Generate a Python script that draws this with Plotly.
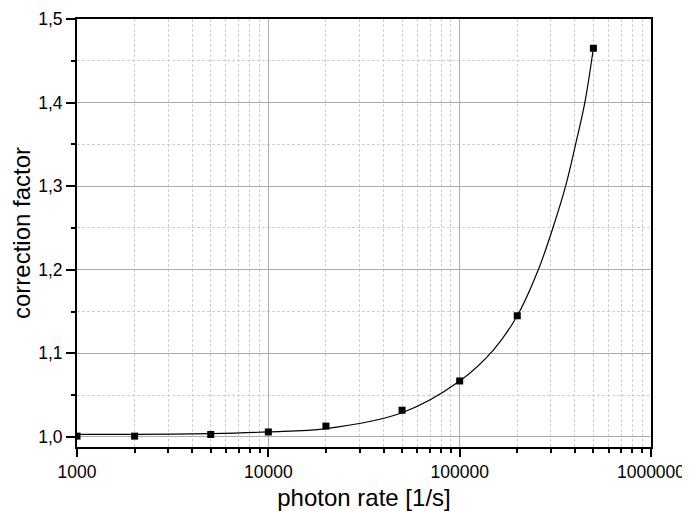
import plotly.graph_objects as go

# measured data points
rate = [1000, 2000, 5000, 10000, 20000, 50000, 100000, 200000, 500000]
factor = [1.001, 1.001, 1.003, 1.006, 1.013, 1.032, 1.067, 1.145, 1.465]

# fit curve
fit_rate = [1000, 2000, 5000, 10000, 20000, 50000, 100000, 150000, 200000,
            257600, 307000, 357800, 403500, 451000, 500000]
fit_factor = [1.003, 1.003, 1.004, 1.006, 1.010, 1.029, 1.067, 1.104, 1.145,
              1.200, 1.250, 1.300, 1.350, 1.400, 1.465]

x_ticks = [1000, 10000, 100000, 1000000]
x_ticktext = ["1000", "10000", "100000", "1000000"]
x_minor = [m * 10 ** e for e in range(3, 6) for m in range(2, 10)]
y_ticks = [1.0, 1.1, 1.2, 1.3, 1.4, 1.5]
y_ticktext = ["1,0", "1,1", "1,2", "1,3", "1,4", "1,5"]
y_minor = [1.05, 1.15, 1.25, 1.35, 1.45]

fig = go.Figure()
fig.add_trace(go.Scatter(
    x=fit_rate, y=fit_factor, mode="lines",
    line=dict(color="black", width=1.2, shape="spline", smoothing=1.0),
    showlegend=False, hoverinfo="skip"))
fig.add_trace(go.Scatter(
    x=rate, y=factor, mode="markers",
    marker=dict(symbol="square", size=7, color="black"),
    showlegend=False))

axis_font = dict(family="Liberation Sans, Arial, sans-serif", size=17.5, color="black")
title_font = dict(family="Liberation Sans, Arial, sans-serif", size=24, color="black")

# the page body adds an 8px offset, so the figure is sized to fit the window
fig.update_layout(
    width=682, height=503,
    margin=dict(l=69, r=39, t=11, b=64),
    paper_bgcolor="white", plot_bgcolor="white",
    xaxis=dict(
        type="log", range=[3, 6], automargin=False,
        tickmode="array", tickvals=x_ticks, ticktext=x_ticktext,
        ticks="outside", ticklen=8, tickwidth=1.5, tickcolor="black",
        showline=True, linecolor="black", linewidth=2, mirror=True,
        showgrid=True, gridcolor="#acacac", gridwidth=1,
        zeroline=False,
        tickfont=axis_font,
        title=dict(text="photon rate [1/s]", font=title_font, standoff=10),
        minor=dict(tickmode="array", tickvals=x_minor, ticks="outside",
                   ticklen=4, tickwidth=1.5, tickcolor="black",
                   showgrid=True, gridcolor="#cfcfcf", griddash="3px,2px", gridwidth=1),
    ),
    yaxis=dict(
        range=[0.988, 1.5], automargin=False,
        tickmode="array", tickvals=y_ticks, ticktext=y_ticktext,
        ticks="outside", ticklen=9, tickwidth=1.5, tickcolor="black",
        showline=True, linecolor="black", linewidth=2, mirror=True,
        showgrid=True, gridcolor="#acacac", gridwidth=1,
        zeroline=False,
        tickfont=axis_font,
        title=dict(text="correction factor", font=title_font, standoff=4),
        minor=dict(tickmode="array", tickvals=y_minor, ticks="outside",
                   ticklen=4, tickwidth=1.5, tickcolor="black",
                   showgrid=True, gridcolor="#cfcfcf", griddash="3px,2px", gridwidth=1),
    ),
)

fig.write_html("out.html")
